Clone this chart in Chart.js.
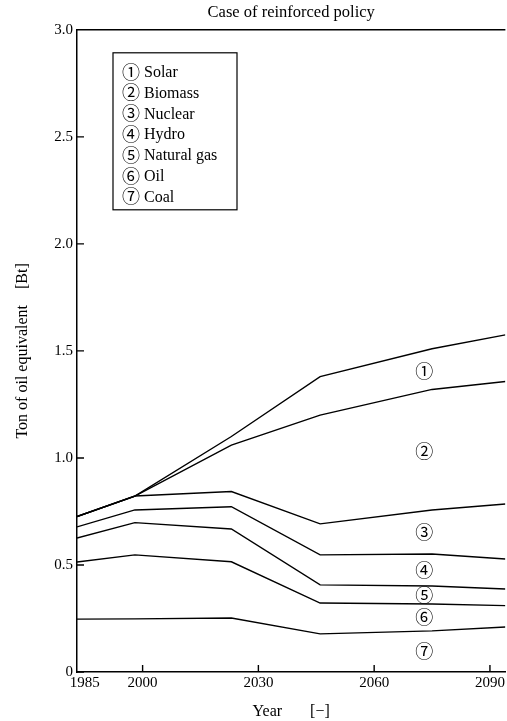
<!DOCTYPE html>
<html lang="en">
<head>
<meta charset="UTF-8">
<title>Case of reinforced policy</title>
<script src="https://cdn.jsdelivr.net/npm/chart.js"></script>
<style>
  html, body { margin: 0; padding: 0; background: #fff; }
  #wrap { width: 507px; height: 721px; }
</style>
</head>
<body>
<div id="wrap"><canvas id="energyChart"></canvas></div>
<script>
// energy sources, legend order (top of the stack first)
const sources = ['Solar', 'Biomass', 'Nuclear', 'Hydro', 'Natural gas', 'Oil', 'Coal'];
const years = [1983, 1998, 2023, 2046, 2075, 2094];

// Bt of oil equivalent per source (read off the figure, not cumulative)
const solar   = [0,     0,     0.040, 0.180, 0.190, 0.218];
const biomass = [0,     0,     0.217, 0.508, 0.563, 0.572];
const nuclear = [0.048, 0.065, 0.071, 0.145, 0.206, 0.257];
const hydro   = [0.052, 0.059, 0.104, 0.140, 0.149, 0.140];
const gas     = [0.112, 0.151, 0.153, 0.085, 0.084, 0.078];
const oil     = [0.267, 0.299, 0.263, 0.144, 0.126, 0.100];
const coal    = [0.247, 0.248, 0.252, 0.178, 0.192, 0.210];

const xTicks = [1985, 2000, 2030, 2060, 2090];
const yTicks = [0, 0.5, 1.0, 1.5, 2.0, 2.5, 3.0];
const labelYear = 2073; // where the circled numbers sit

const series = [solar, biomass, nuclear, hydro, gas, oil, coal];
const serif = '"Liberation Serif", "Times New Roman", serif';
const circled = i => String.fromCharCode(0x2460 + i);

// coal goes first so the stack builds from the bottom
const datasets = sources.map((name, i) => ({
    label: name,
    data: years.map((yr, j) => ({ x: yr, y: series[i][j] })),
    borderColor: '#000',
    borderWidth: 1.4,
    pointRadius: 0,
    fill: false,
    tension: 0
})).reverse();

function valueAt(arr, yr) {
    for (let j = 0; j < years.length - 1; j++) {
        if (yr >= years[j] && yr <= years[j + 1]) {
            const t = (yr - years[j]) / (years[j + 1] - years[j]);
            return arr[j] + t * (arr[j + 1] - arr[j]);
        }
    }
    return arr[arr.length - 1];
}

// top frame line + tick marks pointing into the plot
const frameTicks = {
    id: 'frameTicks',
    afterDatasetsDraw(chart) {
        const { ctx, chartArea: a, scales: { x, y } } = chart;
        ctx.save();
        ctx.strokeStyle = '#000';
        ctx.lineWidth = 1.4;
        ctx.beginPath();
        ctx.moveTo(a.left, a.top);
        ctx.lineTo(a.right, a.top);
        x.ticks.slice(1).forEach(t => {
            const px = x.getPixelForValue(t.value);
            ctx.moveTo(px, a.bottom);
            ctx.lineTo(px, a.bottom - 7);
        });
        y.ticks.forEach(t => {
            const py = y.getPixelForValue(t.value);
            ctx.moveTo(a.left, py);
            ctx.lineTo(a.left + 7, py);
        });
        ctx.stroke();
        ctx.restore();
    }
};

// circled numbers in the middle of each band
const bandLabels = {
    id: 'bandLabels',
    afterDatasetsDraw(chart) {
        const { ctx, scales: { x, y } } = chart;
        ctx.save();
        ctx.fillStyle = '#000';
        ctx.font = '18px "Noto Sans CJK JP", sans-serif';
        ctx.textAlign = 'center';
        ctx.textBaseline = 'middle';
        let lower = 0;
        for (let i = series.length - 1; i >= 0; i--) {
            const v = valueAt(series[i], labelYear);
            ctx.fillText(circled(i), x.getPixelForValue(labelYear), y.getPixelForValue(lower + v / 2));
            lower += v;
        }
        ctx.restore();
    }
};

// boxed legend in the upper left of the plot
const boxLegend = {
    id: 'boxLegend',
    afterDraw(chart) {
        const { ctx, chartArea: a } = chart;
        const bx = a.left + 36, by = a.top + 23, bw = 124, bh = 157, rowH = 20.8;
        ctx.save();
        ctx.strokeStyle = '#000';
        ctx.lineWidth = 1.2;
        ctx.strokeRect(bx, by, bw, bh);
        ctx.fillStyle = '#000';
        ctx.textBaseline = 'middle';
        sources.forEach((name, i) => {
            const yy = by + 19 + i * rowH;
            ctx.font = '18px "Noto Sans CJK JP", sans-serif';
            ctx.fillText(circled(i), bx + 9, yy);
            ctx.font = '16px ' + serif;
            ctx.fillText(name, bx + 31, yy + 1);
        });
        ctx.restore();
    }
};

new Chart(document.getElementById('energyChart').getContext('2d'), {
    type: 'line',
    data: { datasets: datasets },
    options: {
        responsive: true,
        maintainAspectRatio: false,
        animation: false,
        layout: { padding: { left: 0, top: 0, bottom: 0, right: -1 } },
        plugins: {
            legend: { display: false },
            tooltip: { enabled: false },
            title: {
                display: true,
                text: 'Case of reinforced policy',
                fullSize: false,
                color: '#000',
                font: { family: serif, size: 16.5, weight: 'normal' },
                padding: { top: 3, bottom: 7 }
            }
        },
        scales: {
            x: {
                type: 'linear',
                min: years[0],
                max: years[years.length - 1],
                grid: { display: false, drawTicks: false },
                border: { display: true, color: '#000', width: 1.5 },
                ticks: {
                    color: '#000',
                    font: { family: serif, size: 15 },
                    padding: 2,
                    maxRotation: 0,
                    autoSkip: false,
                    callback: v => String(v)
                },
                afterBuildTicks: s => { s.ticks = xTicks.map(v => ({ value: v })); },
                afterFit: s => { s.height = 49; },
                title: {
                    display: true,
                    text: 'Year\u00a0\u00a0\u00a0\u00a0\u00a0\u00a0\u00a0[\u2212]',
                    color: '#000',
                    font: { family: serif, size: 16 },
                    padding: { top: 0, bottom: 0 }
                }
            },
            y: {
                stacked: true,
                min: 0,
                max: 3,
                grid: { display: false, drawTicks: false },
                border: { display: true, color: '#000', width: 1.5 },
                ticks: {
                    color: '#000',
                    font: { family: serif, size: 15 },
                    padding: 4,
                    callback: v => v === 0 ? '0' : v.toFixed(1)
                },
                afterBuildTicks: s => { s.ticks = yTicks.map(v => ({ value: v })); },
                afterFit: s => { s.width = 77; },
                title: {
                    display: true,
                    text: 'Ton of oil equivalent\u00a0\u00a0\u00a0\u00a0[Bt]',
                    color: '#000',
                    font: { family: serif, size: 16 },
                    padding: { top: 13, bottom: 0 }
                }
            }
        }
    },
    plugins: [frameTicks, bandLabels, boxLegend]
});
</script>
</body>
</html>
